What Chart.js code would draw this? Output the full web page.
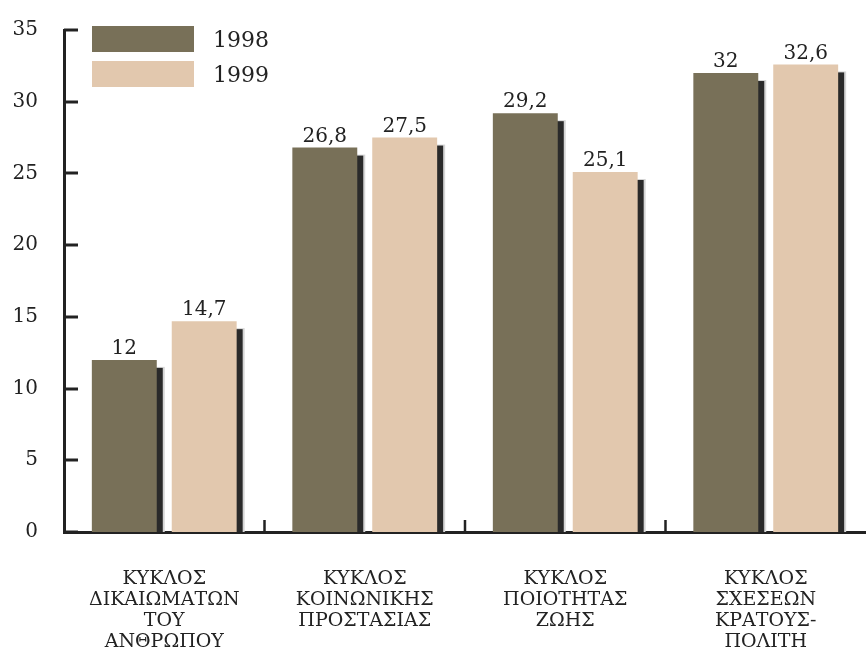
<!DOCTYPE html>
<html>
<head>
<meta charset="utf-8">
<script src="https://cdn.jsdelivr.net/npm/chart.js@4.4.0/dist/chart.umd.min.js"></script>
<style>
  html, body { margin: 0; padding: 0; background: #fff; }
</style>
</head>
<body>
<canvas id="chart1" width="866" height="648"></canvas>
<script>
// data
const categories = [
  ["ΚΥΚΛΟΣ", "ΔΙΚΑΙΩΜΑΤΩΝ", "ΤΟΥ", "ΑΝΘΡΩΠΟΥ"],
  ["ΚΥΚΛΟΣ", "ΚΟΙΝΩΝΙΚΗΣ", "ΠΡΟΣΤΑΣΙΑΣ"],
  ["ΚΥΚΛΟΣ", "ΠΟΙΟΤΗΤΑΣ", "ΖΩΗΣ"],
  ["ΚΥΚΛΟΣ", "ΣΧΕΣΕΩΝ", "ΚΡΑΤΟΥΣ-", "ΠΟΛΙΤΗ"],
];
const seriesNames = ["1998", "1999"];
const values1998 = [12, 26.8, 29.2, 32];
const values1999 = [14.7, 27.5, 25.1, 32.6];
const yTicks = [0, 5, 10, 15, 20, 25, 30, 35];

const colors = ["#787058", "#e2c8ae"];
const ink = "#222222";
const serif = "'DejaVu Serif', serif";

// dark drop shadow to the right of each bar
const shadowPlugin = {
  id: "barShadow",
  beforeDatasetsDraw(chart) {
    const ctx = chart.ctx;
    const base = chart.scales.y.getPixelForValue(0);
    ctx.save();
    chart.data.datasets.forEach((ds, i) => {
      chart.getDatasetMeta(i).data.forEach((bar) => {
        const left = bar.x - bar.width / 2;
        ctx.fillStyle = "#d6d6d6";
        ctx.fillRect(left + 6, bar.y + 7, bar.width + 2, base - bar.y - 7);
        ctx.fillStyle = "#2a2a2a";
        ctx.fillRect(left + 6, bar.y + 8, bar.width, base - bar.y - 8);
      });
    });
    ctx.restore();
  },
};

// value labels, inward ticks and the legend box
const decorPlugin = {
  id: "decor",
  afterDatasetsDraw(chart) {
    const ctx = chart.ctx;
    ctx.save();
    ctx.font = "20px " + serif;
    ctx.fillStyle = ink;
    ctx.textAlign = "center";
    ctx.textBaseline = "bottom";
    chart.data.datasets.forEach((ds, i) => {
      chart.getDatasetMeta(i).data.forEach((bar, j) => {
        const txt = String(ds.data[j]).replace(".", ",");
        ctx.fillText(txt, bar.x, bar.y - 1);
      });
    });
    ctx.restore();
  },
  afterDraw(chart) {
    const ctx = chart.ctx;
    const x = chart.scales.x;
    const y = chart.scales.y;
    const area = chart.chartArea;
    ctx.save();
    ctx.strokeStyle = ink;
    ctx.lineWidth = 3;
    // y ticks pointing into the plot
    y.ticks.forEach((t) => {
      const py = Math.round(y.getPixelForValue(t.value));
      ctx.beginPath();
      ctx.moveTo(area.left, py);
      ctx.lineTo(area.left + 14, py);
      ctx.stroke();
    });
    // x ticks between categories
    ctx.lineWidth = 2.5;
    for (let i = 0; i < categories.length - 1; i++) {
      const px = (x.getPixelForValue(i) + x.getPixelForValue(i + 1)) / 2;
      ctx.beginPath();
      ctx.moveTo(px, area.bottom);
      ctx.lineTo(px, area.bottom - 12);
      ctx.stroke();
    }
    // legend
    ctx.font = "22px " + serif;
    ctx.textAlign = "left";
    ctx.textBaseline = "middle";
    chart.data.datasets.forEach((ds, i) => {
      const by = 26 + i * 35;
      ctx.fillStyle = ds.backgroundColor;
      ctx.fillRect(92, by, 102, 26);
      ctx.fillStyle = ink;
      ctx.fillText(ds.label, 213, by + 15);
    });
    ctx.restore();
  },
};

const ctx1 = document.getElementById("chart1").getContext("2d");

new Chart(ctx1, {
  type: "bar",
  data: {
    labels: categories,
    datasets: [
      {
        label: seriesNames[0],
        data: values1998,
        backgroundColor: colors[0],
        categoryPercentage: 0.797,
        barPercentage: 0.8125,
      },
      {
        label: seriesNames[1],
        data: values1999,
        backgroundColor: colors[1],
        categoryPercentage: 0.797,
        barPercentage: 0.8125,
      },
    ],
  },
  options: {
    responsive: false,
    animation: false,
    layout: { padding: { top: 19, right: 0, left: 0, bottom: 0 } },
    plugins: {
      legend: { display: false },
      tooltip: { enabled: false },
    },
    scales: {
      x: {
        grid: { display: false },
        border: { display: true, color: ink, width: 3 },
        ticks: {
          color: ink,
          font: { family: serif, size: 19, lineHeight: 1.1 },
          padding: 29,
          maxRotation: 0,
          autoSkip: false,
        },
        afterFit: (scale) => {
          scale.height = 116;
        },
      },
      y: {
        min: 0,
        max: 35,
        afterBuildTicks: (scale) => {
          scale.ticks = yTicks.map((v) => ({ value: v }));
        },
        grid: { display: false },
        border: { display: true, color: ink, width: 3 },
        ticks: {
          color: ink,
          font: { family: serif, size: 20 },
          padding: 18,
        },
        afterFit: (scale) => {
          scale.width = 64;
        },
      },
    },
  },
  plugins: [shadowPlugin, decorPlugin],
});
</script>
</body>
</html>
